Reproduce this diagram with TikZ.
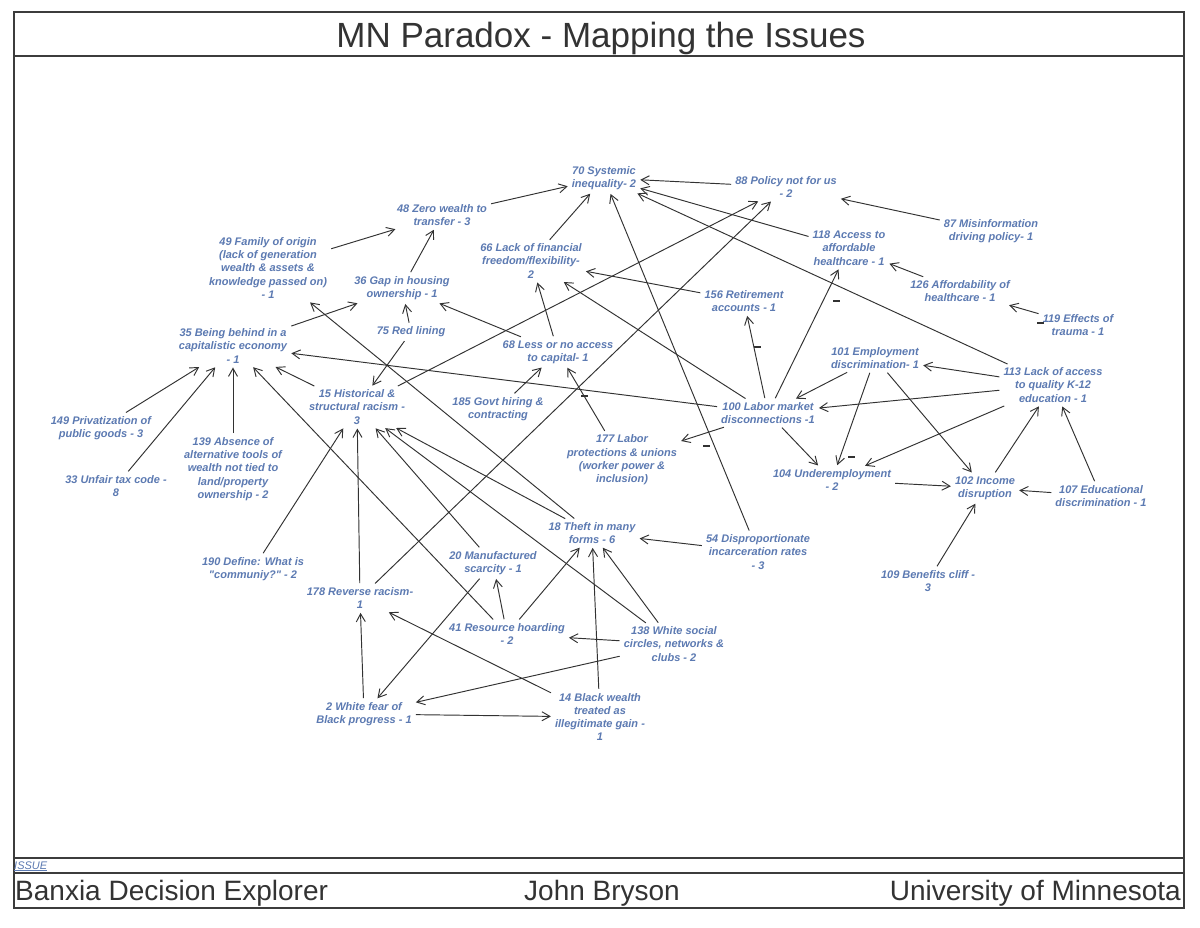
\documentclass[tikz,border=0pt]{standalone}
\usepackage{fontspec}
\setmainfont{Liberation Sans}[Ligatures=TeXOff]
\usepackage{graphicx}
\usetikzlibrary{arrows.meta}
\definecolor{issueblue}{RGB}{92,122,178}
\definecolor{linkgray}{RGB}{50,50,50}
\definecolor{framegray}{RGB}{60,60,60}
\newcommand\issuefont{\bfseries\itshape\fontsize{11}{13.3}\selectfont}
\tikzset{
  issue/.style={font=\issuefont, text=issueblue, align=center, inner sep=3pt},
  link/.style={draw=linkgray, line width=0.95pt, -{Straight Barb[length=8pt,width=9pt]}, shorten >=1pt, shorten <=1pt},
  negmark/.style={fill=linkgray, minimum width=7pt, minimum height=1.3pt, inner sep=0pt, outer sep=0pt},
  frameline/.style={draw=framegray, line width=1.3pt},
  titletext/.style={font=\fontsize{35}{40}\selectfont, text=black!80, inner sep=0pt},
  foottext/.style={font=\fontsize{28}{32}\selectfont, text=black!80, inner sep=0pt},
}
\begin{document}
\begin{tikzpicture}[x=1pt,y=-1pt]
\fill[white] (0,0) rectangle (1200,927);
\useasboundingbox (0,0) rectangle (1200,927);
% frame
\draw[frameline] (14,12) rectangle (1184,908);
\draw[frameline] (14,56) -- (1184,56);
\draw[frameline] (14,858) -- (1184,858);
\draw[frameline] (14,873) -- (1184,873);
\node[titletext, anchor=base] (title) at (601,47) {MN Paradox - Mapping the Issues};
\node[font=\itshape\fontsize{11}{12}\selectfont, text=issueblue, inner sep=0pt, anchor=base west] (issuelbl) at (14,869) {\underline{ISSUE}};
\node[foottext, anchor=base west] (f1) at (15,900) {Banxia Decision Explorer};
\node[foottext, anchor=base] (f2) at (602,900) {John Bryson};
\node[foottext, anchor=base east] (f3) at (1181,900) {University of Minnesota};

% issues
\node[issue] (n70) at (604,178) {70 Systemic\\inequality- 2};
\node[issue] (n88) at (786,187) {88 Policy not for us\\- 2};
\node[issue] (n48) at (442,215) {48 Zero wealth to\\transfer - 3};
\node[issue] (n49) at (268,268) {49 Family of origin\\(lack of generation\\wealth \& assets \&\\knowledge passed on)\\- 1};
\node[issue] (n66) at (531,261) {66 Lack of financial\\freedom/flexibility-\\2};
\node[issue] (n118) at (849,248) {118 Access to\\affordable\\healthcare - 1};
\node[issue] (n87) at (991,231) {87 Misinformation\\driving policy- 1};
\node[issue] (n36) at (402,288) {36 Gap in housing\\ownership - 1};
\node[issue] (n126) at (960,291) {126 Affordability of\\healthcare - 1};
\node[issue] (n156) at (744,301) {156 Retirement\\accounts - 1};
\node[issue] (n119) at (1078,325) {119 Effects of\\trauma - 1};
\node[issue] (n75) at (411,332) {75 Red lining};
\node[issue] (n35) at (233,346) {35 Being behind in a\\capitalistic economy\\- 1};
\node[issue] (n68) at (558,352) {68 Less or no access\\to capital- 1};
\node[issue] (n101) at (875,358) {101 Employment\\discrimination- 1};
\node[issue] (n113) at (1053,385) {113 Lack of access\\to quality K-12\\education - 1};
\node[issue] (n15) at (357,407) {15 Historical \&\\structural racism -\\3};
\node[issue] (n185) at (498,409) {185 Govt hiring \&\\contracting};
\node[issue] (n100) at (768,413) {100 Labor market\\disconnections -1};
\node[issue] (n149) at (101,428) {149 Privatization of\\public goods - 3};
\node[issue] (n139) at (233,469) {139 Absence of\\alternative tools of\\wealth not tied to\\land/property\\ownership - 2};
\node[issue] (n177) at (622,460) {177 Labor\\protections \& unions\\(worker power \&\\inclusion)};
\node[issue] (n104) at (832,480) {104 Underemployment\\- 2};
\node[issue] (n33) at (116,486) {33 Unfair tax code -\\8};
\node[issue] (n102) at (985,488) {102 Income\\disruption};
\node[issue] (n107) at (1101,496) {107 Educational\\discrimination - 1};
\node[issue] (n18) at (592,533) {18 Theft in many\\forms - 6};
\node[issue] (n54) at (758,552) {54 Disproportionate\\incarceration rates\\- 3};
\node[issue] (n20) at (493,563) {20 Manufactured\\scarcity - 1};
\node[issue] (n190) at (253,569) {190 Define: What is\\"communiy?" - 2};
\node[issue] (n109) at (928,581) {109 Benefits cliff -\\3};
\node[issue] (n178) at (360,598) {178 Reverse racism-\\1};
\node[issue] (n41) at (507,634) {41 Resource hoarding\\- 2};
\node[issue] (n138) at (674,644) {138 White social\\circles, networks \&\\clubs - 2};
\node[issue] (n14) at (600,717) {14 Black wealth\\treated as\\illegitimate gain -\\1};
\node[issue] (n2) at (364,714) {2 White fear of\\Black progress - 1};

% links
\draw[link] (n49) -- (n48);
\draw[link] (n36) -- (n48);
\draw[link] (n48) -- (n70);
\draw[link] (n66) -- (n70);
\draw[link] (n88) -- (n70);
\draw[link] (n118) -- (n70);
\draw[link] (n113) -- (n70);
\draw[link] (n54) -- (n70);
\draw[link] (n15) -- (n88);
\draw[link] (n178) -- (n88);
\draw[link] (n87) -- (n88);
\draw[link] (n156) -- (n66);
\draw[link] (n68) -- (n66);
\draw[link] (n100) -- (n66);
\draw[link] (n126) -- (n118);
\draw[link] (n100) -- (n118);
\draw[link] (n119) -- (n126);
\draw[link] (n35) -- (n36);
\draw[link] (n75) -- (n36);
\draw[link] (n68) -- (n36);
\draw[link] (n75) -- (n15);
\draw[link] (n18) -- (n49);
\draw[link] (n100) -- (n35);
\draw[link] (n149) -- (n35);
\draw[link] (n33) -- (n35);
\draw[link] (n139) -- (n35);
\draw[link] (n15) -- (n35);
\draw[link] (n41) -- (n35);
\draw[link] (n185) -- (n68);
\draw[link] (n177) -- (n68);
\draw[link] (n100) -- (n156);
\draw[link] (n101) -- (n100);
\draw[link] (n113) -- (n100);
\draw[link] (n113) -- (n101);
\draw[link] (n113) -- (n104);
\draw[link] (n101) -- (n104);
\draw[link] (n101) -- (n102);
\draw[link] (n100) -- (n104);
\draw[link] (n104) -- (n102);
\draw[link] (n102) -- (n113);
\draw[link] (n107) -- (n113);
\draw[link] (n107) -- (n102);
\draw[link] (n109) -- (n102);
\draw[link] (n100) -- (n177);
\draw[link] (n190) -- (n15);
\draw[link] (n178) -- (n15);
\draw[link] (n20) -- (n15);
\draw[link] (n138) -- (n15);
\draw[link] (n18) -- (n15);
\draw[link] (n41) -- (n18);
\draw[link] (n14) -- (n18);
\draw[link] (n138) -- (n18);
\draw[link] (n54) -- (n18);
\draw[link] (n138) -- (n41);
\draw[link] (n41) -- (n20);
\draw[link] (n138) -- (n2);
\draw[link] (n2) -- (n14);
\draw[link] (n14) -- (n178);
\draw[link] (n2) -- (n178);
\draw[link] (n20) -- (n2);

% negative link marks
\node[negmark] (m1) at (584,396) {};
\node[negmark] (m2) at (757,347) {};
\node[negmark] (m3) at (836,301) {};
\node[negmark] (m4) at (706,446) {};
\node[negmark] (m5) at (851,457) {};
\node[negmark] (m6) at (1040,323) {};
\end{tikzpicture}
\end{document}
